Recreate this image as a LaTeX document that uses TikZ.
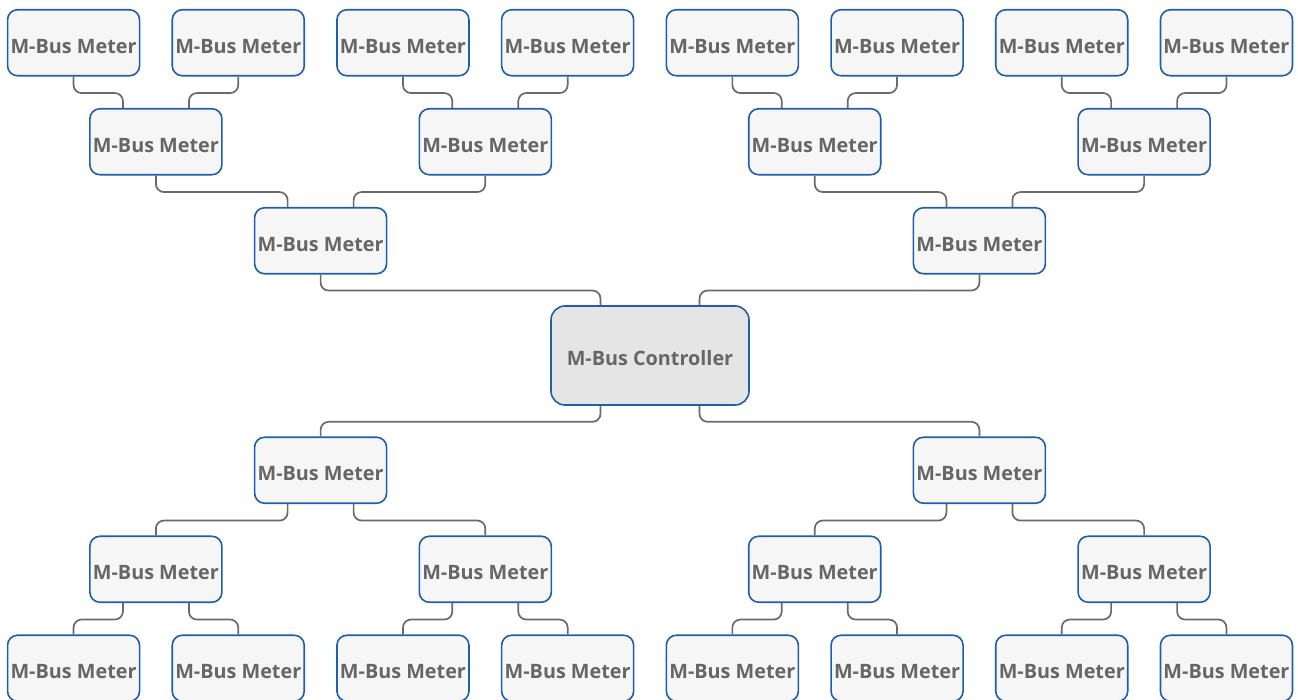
\documentclass[tikz,border=0pt]{standalone}
\usepackage{fontspec}
\setmainfont{Open Sans}
\usetikzlibrary{calc}
\definecolor{boxborder}{HTML}{1E5EAA}
\definecolor{boxfill}{HTML}{F6F6F6}
\definecolor{ctrlfill}{HTML}{E5E5E5}
\definecolor{txt}{HTML}{666666}
\definecolor{wire}{HTML}{6A6A6A}
\tikzset{
  meter/.style={draw=boxborder, fill=boxfill, line width=1.6pt, rounded corners=10pt,
    minimum width=132pt, minimum height=66pt, inner sep=0pt,
    text height=21pt, text depth=0pt,
    font=\fontsize{19.8pt}{22pt}\selectfont\bfseries, text=txt},
  ctrl/.style={meter, fill=ctrlfill, minimum width=198pt, minimum height=99pt, rounded corners=14pt},
  conn/.style={draw=wire, line width=1.7pt, rounded corners=8pt}
}
\begin{document}
\begin{tikzpicture}[x=1pt,y=-1pt]
\useasboundingbox (0,0) rectangle (1298,700);
\def\p{164.7}
\def\c{650}
% controller
\node[ctrl] (C) at (\c,355.5) {M-Bus Controller};
% level 1
\foreach \k/\s in {1/-1,2/1}{
  \node[meter] (U1-\k) at ({\c+\s*2*\p},240.75) {M-Bus Meter};
  \node[meter] (L1-\k) at ({\c+\s*2*\p},470.25) {M-Bus Meter};
}
% level 2
\foreach \j in {1,...,4}{
  \node[meter] (U2-\j) at ({\c+(\j-2.5)*2*\p},141.75) {M-Bus Meter};
  \node[meter] (L2-\j) at ({\c+(\j-2.5)*2*\p},569.25) {M-Bus Meter};
}
% level 3
\foreach \i in {1,...,8}{
  \node[meter] (U3-\i) at ({\c+(\i-4.5)*\p},42.75) {M-Bus Meter};
  \node[meter] (L3-\i) at ({\c+(\i-4.5)*\p},668.25) {M-Bus Meter};
}
% connectors around the controller
\draw[conn] (U1-1.south) -- ++(0,16) -| ($(C.north)+(-49.5,0)$);
\draw[conn] (U1-2.south) -- ++(0,16) -| ($(C.north)+(49.5,0)$);
\draw[conn] ($(C.south)+(-49.5,0)$) -- ++(0,16) -| (L1-1.north);
\draw[conn] ($(C.south)+(49.5,0)$) -- ++(0,16) -| (L1-2.north);
\foreach \k in {1,2}{
  \pgfmathtruncatemacro{\a}{2*\k-1}
  \pgfmathtruncatemacro{\b}{2*\k}
  \draw[conn] (U2-\a.south) -- ++(0,16.5) -| ($(U1-\k.north)+(-33,0)$);
  \draw[conn] (U2-\b.south) -- ++(0,16.5) -| ($(U1-\k.north)+(33,0)$);
  \draw[conn] ($(L1-\k.south)+(-33,0)$) -- ++(0,16.5) -| (L2-\a.north);
  \draw[conn] ($(L1-\k.south)+(33,0)$) -- ++(0,16.5) -| (L2-\b.north);
}
\foreach \j in {1,...,4}{
  \pgfmathtruncatemacro{\a}{2*\j-1}
  \pgfmathtruncatemacro{\b}{2*\j}
  \draw[conn] (U3-\a.south) -- ++(0,16.5) -| ($(U2-\j.north)+(-33,0)$);
  \draw[conn] (U3-\b.south) -- ++(0,16.5) -| ($(U2-\j.north)+(33,0)$);
  \draw[conn] ($(L2-\j.south)+(-33,0)$) -- ++(0,16.5) -| (L3-\a.north);
  \draw[conn] ($(L2-\j.south)+(33,0)$) -- ++(0,16.5) -| (L3-\b.north);
}
\end{tikzpicture}
\end{document}
